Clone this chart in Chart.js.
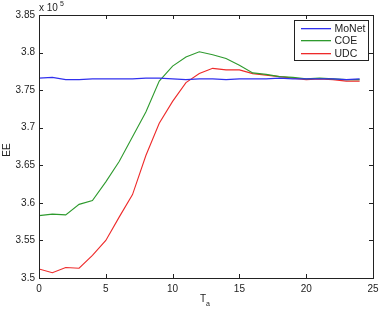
<!DOCTYPE html>
<html>
<head>
<meta charset="utf-8">
<script src="https://cdn.jsdelivr.net/npm/chart.js"></script>
<style>
  html, body { margin: 0; padding: 0; background: #fff; }
  #wrap { width: 384px; height: 311px; }
</style>
</head>
<body>
<div id="wrap"><canvas id="eeChart" width="384" height="311"></canvas></div>
<script>
// T_a values and EE (x 10^5) per method
const taValues = [0, 1, 2, 3, 4, 5, 6, 7, 8, 9, 10, 11, 12, 13, 14, 15, 16, 17, 18, 19, 20, 21, 22, 23, 24];
const moNetEE = [3.766, 3.767, 3.764, 3.764, 3.765, 3.765, 3.765, 3.765, 3.766, 3.766, 3.765, 3.764, 3.765, 3.765, 3.764, 3.765, 3.765, 3.765, 3.766, 3.765, 3.765, 3.765, 3.765, 3.764, 3.765];
const coeEE = [3.583, 3.585, 3.584, 3.598, 3.603, 3.628, 3.655, 3.688, 3.721, 3.762, 3.782, 3.794, 3.801, 3.797, 3.792, 3.783, 3.773, 3.771, 3.768, 3.767, 3.765, 3.766, 3.765, 3.764, 3.764];
const udcEE = [3.512, 3.507, 3.514, 3.513, 3.530, 3.550, 3.581, 3.611, 3.663, 3.706, 3.735, 3.760, 3.772, 3.779, 3.777, 3.777, 3.772, 3.770, 3.768, 3.766, 3.764, 3.765, 3.764, 3.762, 3.762];
const seriesNames = ['MoNet', 'COE', 'UDC'];
const xTicks = [0, 5, 10, 15, 20, 25];
const yTicks = [3.5, 3.55, 3.6, 3.65, 3.7, 3.75, 3.8, 3.85];

const FONT = 'Liberation Sans, Arial, sans-serif';
const INK = '#222';
const colors = ['#3030ee', '#2e9a2e', '#ee2a2a'];

const toPoints = arr => arr.map((v, i) => ({ x: taValues[i], y: v }));

// frame + inward ticks, MATLAB style
const boxTicks = {
    id: 'boxTicks',
    afterDatasetsDraw(chart) {
        const { ctx, chartArea: a, scales: { x, y } } = chart;
        ctx.save();
        ctx.strokeStyle = INK;
        ctx.lineWidth = 1;
        ctx.beginPath();
        xTicks.forEach(t => {
            const px = Math.round(x.getPixelForValue(t)) + 0.5;
            ctx.moveTo(px, a.bottom); ctx.lineTo(px, a.bottom - 4);
            ctx.moveTo(px, a.top); ctx.lineTo(px, a.top + 4);
        });
        yTicks.forEach(t => {
            const py = Math.round(y.getPixelForValue(t)) + 0.5;
            ctx.moveTo(a.left, py); ctx.lineTo(a.left + 4, py);
            ctx.moveTo(a.right, py); ctx.lineTo(a.right - 4, py);
        });
        ctx.stroke();
        ctx.strokeRect(Math.round(a.left) + 0.5, Math.round(a.top) + 0.5,
            Math.round(a.right - a.left), Math.round(a.bottom - a.top));

        // exponent note
        ctx.fillStyle = INK;
        ctx.font = '10px ' + FONT;
        ctx.textBaseline = 'alphabetic';
        ctx.textAlign = 'left';
        ctx.fillText('x 10', a.left, a.top - 4);
        ctx.font = '7px ' + FONT;
        ctx.fillText('5', a.left + 21, a.top - 9);

        // axis titles
        ctx.font = '10px ' + FONT;
        ctx.textAlign = 'center';
        ctx.fillText('T', 203, 302);
        ctx.font = '7px ' + FONT;
        ctx.fillText('a', 208, 306);
        ctx.save();
        ctx.translate(10, 150);
        ctx.rotate(-Math.PI / 2);
        ctx.font = '10px ' + FONT;
        ctx.fillText('EE', 0, 0);
        ctx.restore();

        // legend box
        const lx = 294.5, ly = 20.5, lw = 74, lh = 40;
        ctx.fillStyle = '#fff';
        ctx.fillRect(lx, ly, lw, lh);
        ctx.strokeStyle = INK;
        ctx.strokeRect(lx, ly, lw, lh);
        ctx.font = '10.5px ' + FONT;
        ctx.textAlign = 'left';
        ctx.textBaseline = 'middle';
        seriesNames.forEach((name, i) => {
            const yy = Math.round(ly + 7 + i * 12.5);
            ctx.fillStyle = colors[i];
            ctx.fillRect(Math.round(lx + 6), yy, 30, 1.3);
            ctx.fillStyle = INK;
            ctx.fillText(name, lx + 40, yy + 1);
        });
        ctx.restore();
    }
};

new Chart(document.getElementById('eeChart'), {
    type: 'line',
    data: {
        datasets: [moNetEE, coeEE, udcEE].map((arr, i) => ({
            label: seriesNames[i],
            data: toPoints(arr),
            borderColor: colors[i],
            backgroundColor: colors[i],
            borderWidth: 1.1,
            pointRadius: 0,
            tension: 0,
            fill: false
        }))
    },
    options: {
        responsive: false,
        animation: false,
        layout: { padding: { left: 0, top: 15, right: 11, bottom: 0 } },
        plugins: { legend: { display: false }, tooltip: { enabled: false } },
        scales: {
            x: {
                type: 'linear',
                min: 0, max: 25,
                afterFit: s => { s.height = 33; },
                afterBuildTicks: s => { s.ticks = xTicks.map(v => ({ value: v })); },
                grid: { display: false, drawTicks: false },
                border: { display: false },
                ticks: { color: INK, font: { family: FONT, size: 10 }, padding: 5, maxRotation: 0 }
            },
            y: {
                type: 'linear',
                min: 3.5, max: 3.85,
                afterFit: s => { s.width = 39; },
                afterBuildTicks: s => { s.ticks = yTicks.map(v => ({ value: v })); },
                grid: { display: false, drawTicks: false },
                border: { display: false },
                ticks: {
                    color: INK, font: { family: FONT, size: 10 }, padding: 4,
                    callback: v => String(+v.toFixed(2))
                }
            }
        }
    },
    plugins: [boxTicks]
});
</script>
</body>
</html>
